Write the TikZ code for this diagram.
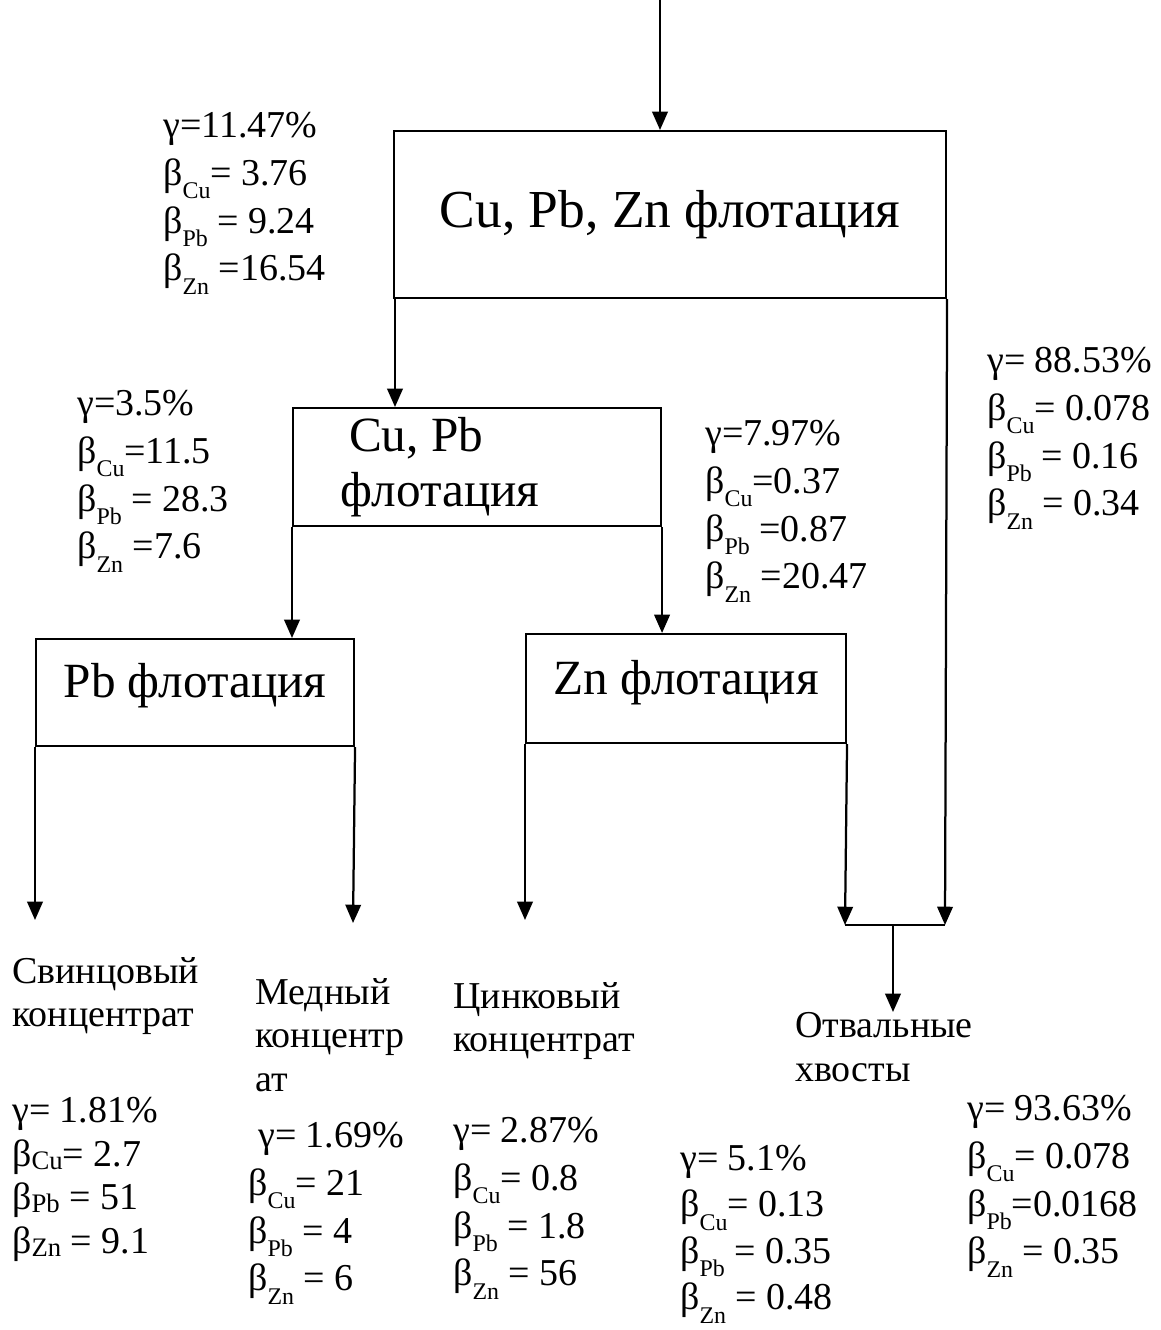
\documentclass[tikz,border=0pt]{standalone}
\usepackage{fontspec}
\setmainfont{Liberation Serif}
\usepackage{tikz}
\usetikzlibrary{arrows.meta}
\newcommand\sbs[1]{\raisebox{-0.35em}{\fontsize{17}{17}\selectfont #1}}% lowered subscript
\newcommand\sbl[1]{\raisebox{-0.08em}{\fontsize{19}{19}\selectfont #1}}
\tikzset{
  flotbox/.style={draw, line width=1.4pt, rectangle, anchor=north west, inner sep=0pt},
  arr/.style={line width=1.6pt, -{Triangle[width=11pt,length=13pt]}},
  streamdata/.style={anchor=north west, inner sep=0pt, align=flush left, font=\fontsize{27}{34}\selectfont},
  prodname/.style={anchor=north west, inner sep=0pt, align=flush left, font=\fontsize{27}{31}\selectfont}
}
\begin{document}
\begin{tikzpicture}[x=0.025cm, y=-0.025cm]
  \useasboundingbox (0,0) rectangle (1160,1330);

  % flotation boxes
  \node[flotbox, minimum width=13.8cm, minimum height=4.175cm, font=\fontsize{38}{42}\selectfont] (flot) at (393,130) {Cu, Pb, Zn флотация};
  \node[flotbox, minimum width=9.2cm, minimum height=2.95cm, text width=6.8cm, inner xsep=1.2cm, align=flush left,
        font=\fontsize{35}{39}\selectfont] (cupb) at (292,407) {\hspace*{0.2cm}Cu, Pb\\флотация};
  \node[flotbox, minimum width=7.95cm, minimum height=2.675cm, text depth=0.6cm, font=\fontsize{35}{39}\selectfont] (pbf) at (35,638) {Pb флотация};
  \node[flotbox, minimum width=8cm, minimum height=2.725cm, text depth=0.55cm, font=\fontsize{35}{39}\selectfont] (znf) at (525,633) {Zn флотация};

  \coordinate (feed) at (660,0);
  \coordinate (pbout) at (35,920);
  \coordinate (cuout) at (353,923);
  \coordinate (znout) at (525,920);
  \coordinate (joinL) at (845,925);
  \coordinate (joinR) at (945,925);
  \coordinate (joinM) at (893,925);
  \coordinate (tailout) at (893,1012);

  % connectors
  \draw[arr] (feed) -- (feed |- flot.north);
  \draw[arr] ([xshift=0.05cm]flot.south west) -- ([xshift=0.05cm]flot.south west |- cupb.north);
  \draw[arr] (flot.south east) -- (joinR);
  \draw[arr] (cupb.south west) -- (cupb.south west |- pbf.north);
  \draw[arr] (cupb.south east) -- (cupb.south east |- znf.north);
  \draw[arr] (pbf.south west) -- (pbout);
  \draw[arr] (pbf.south east) -- (cuout);
  \draw[arr] (znf.south west) -- (znout);
  \draw[arr] (znf.south east) -- (joinL);
  \draw[line width=1.6pt] (joinL) -- (joinR);
  \draw[arr] (joinM) -- (tailout);

  % stream data
  \node[streamdata] (dflot) at (163,112) {γ=11.47\%\\β\sbs{Cu}= 3.76\\β\sbs{Pb} = 9.24\\β\sbs{Zn} =16.54};
  \node[streamdata] (dcupb) at (77,390) {γ=3.5\%\\β\sbs{Cu}=11.5\\β\sbs{Pb} = 28.3\\β\sbs{Zn} =7.6};
  \node[streamdata] (dzn) at (705,420) {γ=7.97\%\\β\sbs{Cu}=0.37\\β\sbs{Pb} =0.87\\β\sbs{Zn} =20.47};
  \node[streamdata] (dtail) at (987,347) {γ= 88.53\%\\β\sbs{Cu}= 0.078\\β\sbs{Pb} = 0.16\\β\sbs{Zn} = 0.34};

  % products
  \node[prodname] (npb) at (12,957) {Свинцовый\\концентрат};
  \node[prodname] (ncu) at (255,978) {Медный\\концентр\\ат};
  \node[prodname] (nzn) at (453,982) {Цинковый\\концентрат};
  \node[prodname] (ntail) at (795,1012) {Отвальные\\хвосты};

  \node[streamdata, font=\fontsize{27}{31}\selectfont] (dpb) at (12,1097) {γ= 1.81\%\\β\sbl{Cu}= 2.7\\β\sbl{Pb} = 51\\β\sbl{Zn} = 9.1};
  \node[streamdata] (dcu) at (248,1122) {\hspace*{0.25cm}γ= 1.69\%\\β\sbs{Cu}= 21\\β\sbs{Pb} = 4\\β\sbs{Zn} = 6};
  \node[streamdata] (dznc) at (453,1117) {γ= 2.87\%\\β\sbs{Cu}= 0.8\\β\sbs{Pb} = 1.8\\β\sbs{Zn} = 56};
  \node[streamdata, font=\fontsize{27}{33}\selectfont] (dznt) at (680,1145) {γ= 5.1\%\\β\sbs{Cu}= 0.13\\β\sbs{Pb} = 0.35\\β\sbs{Zn} = 0.48};
  \node[streamdata] (dfin) at (967,1095) {γ= 93.63\%\\β\sbs{Cu}= 0.078\\β\sbs{Pb}=0.0168\\β\sbs{Zn} = 0.35};
\end{tikzpicture}
\end{document}
